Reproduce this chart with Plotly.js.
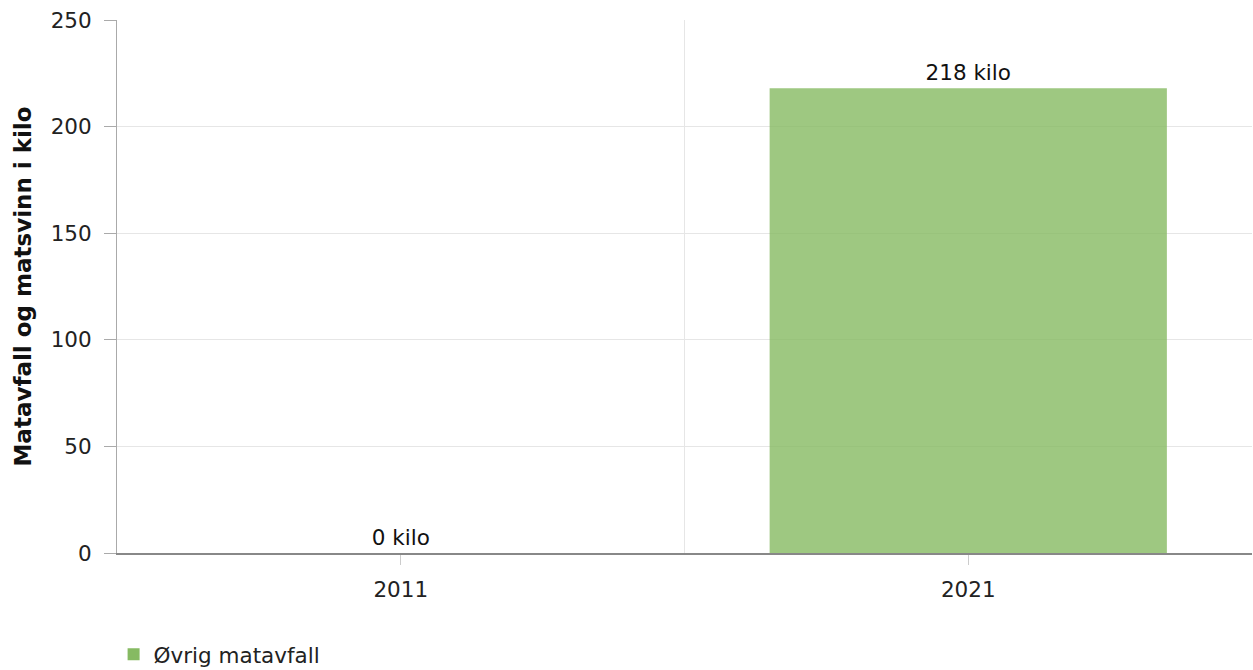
<!DOCTYPE html>
<html>
<head>
<meta charset="utf-8">
<script src="https://cdn.plot.ly/plotly-3.0.1.min.js"></script>
<style>html,body{margin:0;padding:0;background:#fff;}#chart{width:1253px;height:670px;}</style>
</head>
<body>
<div id="chart"></div>
<script>
const categories = ["2011", "2021"];
const values = [0, 218];
const seriesName = "Øvrig matavfall";
const yTitle = "Matavfall og matsvinn i kilo";
const unit = " kilo";

const xIdx = categories.map((c, i) => i);
const font = "DejaVu Sans, Verdana, sans-serif";
const fs = 21.5;

const trace = {
  type: "bar",
  x: xIdx,
  y: values,
  name: seriesName,
  width: 0.7,
  marker: {color: "#86ba62", opacity: 0.8},
  text: values.map(v => v + unit),
  textposition: "outside",
  cliponaxis: false,
  textfont: {family: font, size: fs, color: "#111"},
  hoverinfo: "none",
  showlegend: true
};

const layout = {
  width: 1253, height: 670,
  margin: {l: 117, r: 1, t: 20, b: 117, autoexpand: false},
  paper_bgcolor: "#fff", plot_bgcolor: "#fff",
  font: {family: font, size: fs, color: "#222"},
  showlegend: true,
  legend: {x: -0.003, xanchor: "left", y: -0.19, yanchor: "middle", orientation: "h",
           font: {family: font, size: fs, color: "#222"}, itemsizing: "constant"},
  xaxis: {
    range: [-0.5, 1.5],
    tickmode: "array", tickvals: xIdx, ticktext: categories,
    showgrid: false, zeroline: false,
    ticks: "outside", ticklen: 10, tickcolor: "#ccc", tickwidth: 1,
    showline: true, linecolor: "#888", linewidth: 2,
    minor: {tickmode: "linear", tick0: -0.5, dtick: 1, showgrid: true, gridcolor: "#e6e6e6", gridwidth: 1, ticks: ""},
    ticklabelstandoff: 6,
    tickfont: {family: font, size: fs, color: "#222"},
    fixedrange: true,
    automargin: false
  },
  yaxis: {
    range: [0, 250], dtick: 50, tick0: 0,
    showgrid: true, gridcolor: "#e6e6e6", gridwidth: 1,
    zeroline: false,
    ticks: "outside", ticklen: 12, tickcolor: "#aaa", tickwidth: 1,
    showline: true, linecolor: "#aaa", linewidth: 1,
    ticklabelstandoff: 8,
    tickfont: {family: font, size: fs, color: "#222"},
    title: {text: "<b>" + yTitle + "</b>", font: {family: font, size: 23, color: "#111"}, standoff: 12},
    fixedrange: true,
    automargin: false
  }
};

Plotly.newPlot("chart", [trace], layout, {displayModeBar: false, staticPlot: true});
</script>
</body>
</html>
